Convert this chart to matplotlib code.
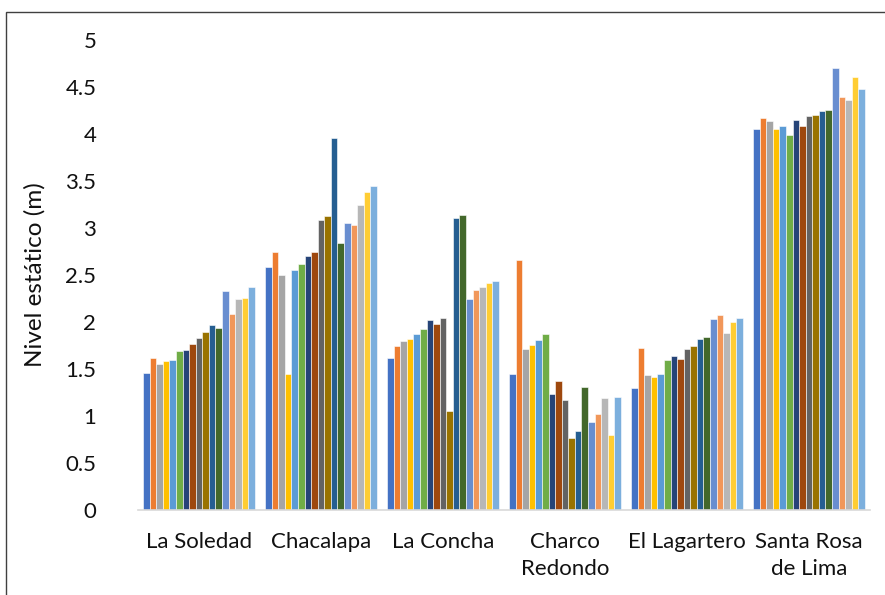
import numpy as np
import matplotlib.pyplot as plt
from matplotlib.patches import Rectangle

plt.rcParams['font.family'] = ['Lato', 'DejaVu Sans']

# sitios de muestreo
sitios = ["La Soledad", "Chacalapa", "La Concha", "Charco\nRedondo",
          "El Lagartero", "Santa Rosa\nde Lima"]

# nivel estatico (m) por sitio, 17 mediciones cada uno
la_soledad = [1.46, 1.62, 1.55, 1.59, 1.60, 1.69, 1.70, 1.77, 1.83, 1.89,
              1.97, 1.94, 2.33, 2.09, 2.24, 2.26, 2.37]
chacalapa = [2.58, 2.75, 2.50, 1.45, 2.55, 2.62, 2.70, 2.74, 3.08, 3.13,
             3.96, 2.84, 3.05, 3.03, 3.24, 3.38, 3.45]
la_concha = [1.62, 1.75, 1.80, 1.82, 1.87, 1.93, 2.02, 1.98, 2.04, 1.05,
             3.11, 3.14, 2.24, 2.34, 2.37, 2.42, 2.44]
charco_redondo = [1.45, 2.66, 1.71, 1.76, 1.81, 1.87, 1.23, 1.37, 1.17, 0.77,
                  0.84, 1.31, 0.94, 1.02, 1.19, 0.80, 1.20]
el_lagartero = [1.30, 1.72, 1.44, 1.41, 1.45, 1.60, 1.64, 1.61, 1.71, 1.74,
                1.82, 1.84, 2.03, 2.07, 1.88, 2.00, 2.04]
santa_rosa = [4.05, 4.17, 4.14, 4.05, 4.08, 3.99, 4.15, 4.09, 4.19, 4.20,
              4.25, 4.26, 4.70, 4.39, 4.36, 4.61, 4.48]

# paleta de Office
colores = ["#4472C4", "#ED7D31", "#A5A5A5", "#FFC000", "#5B9BD5", "#70AD47",
           "#264478", "#9E480E", "#636363", "#997300", "#255E91", "#43682B",
           "#698ED0", "#F1975A", "#B7B7B7", "#FFCD33", "#7CAFDD"]

datos = np.array([la_soledad, chacalapa, la_concha, charco_redondo,
                  el_lagartero, santa_rosa])
n_sitios, n_med = datos.shape

fig = plt.figure(figsize=(8.85, 5.95), dpi=100)
ax = fig.add_axes([138 / 885, 1 - 510 / 595, (870 - 138) / 885, 470 / 595])

x = np.arange(n_sitios)
ancho = 0.915 / n_med
for j in range(n_med):
    ax.bar(x - 0.4575 + ancho * (j + 0.5), datos[:, j], width=ancho,
           color=colores[j], edgecolor="white", linewidth=0.4)

ax.set_xlim(-0.5, n_sitios - 0.5)
ax.set_ylim(0, 5)
ax.set_yticks(np.arange(0, 5.01, 0.5))
ax.set_yticklabels(["0", "0.5", "1", "1.5", "2", "2.5", "3", "3.5", "4", "4.5", "5"])
ax.set_xticks(x)
ax.set_xticklabels(sitios, fontsize=16, color="#111111", linespacing=1.42)
ax.tick_params(axis="y", labelsize=16, colors="#111111", length=0, pad=30)
ax.tick_params(axis="x", length=0, pad=16)
for lado in ["top", "right", "left"]:
    ax.spines[lado].set_visible(False)
ax.spines["bottom"].set_color("#d9d9d9")
ax.spines["bottom"].set_linewidth(1.2)

ax.set_ylabel("Nivel estático (m)", fontsize=17.5, color="#111111")
ax.yaxis.set_label_coords(-0.126, 0.5)

# marco del grafico
fig.patches.append(Rectangle((6 / 885, -0.1), 1.2, 1 - 12 / 595 + 0.1,
                             transform=fig.transFigure, fill=False,
                             edgecolor="#404040", linewidth=1.0))

fig.savefig("out.png", dpi=100)
